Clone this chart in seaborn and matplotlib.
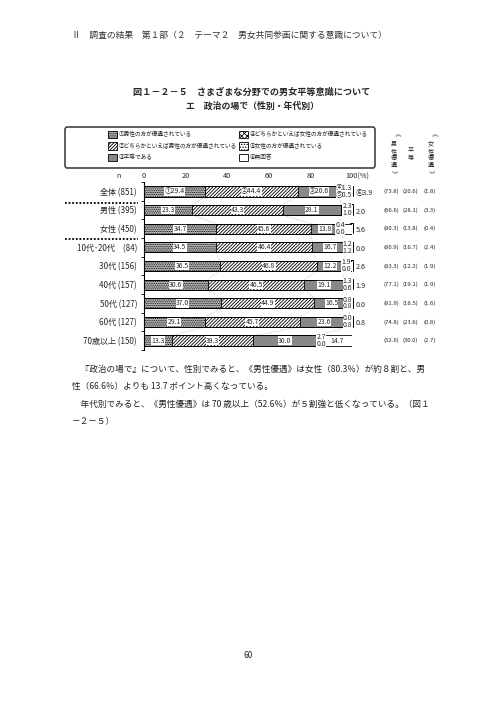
import numpy as np
import pandas as pd
import matplotlib.pyplot as plt
import matplotlib.patches as mpatches
from matplotlib.lines import Line2D
import seaborn as sns

# ---------------------------
# data
# ---------------------------
groups = ['全体 (851)', '男性 (395)', '女性 (450)', '10代･20代　(84)', '30代 (156)',
          '40代 (157)', '50代 (127)', '60代 (127)', '70歳以上 (150)']
cat_labels = ['①男性の方が優遇されている',
              '②どちらかといえば男性の方が優遇されている',
              '③平等である',
              '④どちらかといえば女性の方が優遇されている',
              '⑤女性の方が優遇されている',
              '⑥無回答']
v1 = [29.4, 23.3, 34.7, 34.5, 36.5, 30.6, 37.0, 29.1, 13.3]
v2 = [44.4, 43.3, 45.6, 46.4, 46.8, 46.5, 44.9, 45.7, 39.3]
v3 = [20.6, 28.1, 13.8, 16.7, 12.2, 19.1, 16.5, 23.6, 30.0]
v4 = [1.3, 2.3, 0.4, 1.2, 1.9, 1.3, 0.8, 0.0, 2.7]
v5 = [0.5, 1.0, 0.0, 1.2, 0.0, 0.6, 0.8, 0.8, 0.0]
v6 = [3.9, 2.0, 5.6, 0.0, 2.6, 1.9, 0.0, 0.8, 14.7]
male_pref = [73.8, 66.6, 80.3, 80.9, 83.3, 77.1, 81.9, 74.8, 52.6]
equal = [20.6, 28.1, 13.8, 16.7, 12.2, 19.1, 16.5, 23.6, 30.0]
female_pref = [1.8, 3.3, 0.4, 2.4, 1.9, 1.9, 1.6, 0.8, 2.7]
x_ticks = [0, 20, 40, 60, 80, 100]

header = 'Ⅱ　調査の結果　第１部（２　テーマ２　男女共同参画に関する意識について）'
title1 = '図１－２－５　さまざまな分野での男女平等意識について'
title2 = 'エ　政治の場で（性別・年代別）'
body = ['　『政治の場で』について、性別でみると、《男性優遇》は女性（80.3％）が約８割と、男',
        '性（66.6％）よりも 13.7 ポイント高くなっている。',
        '　年代別でみると、《男性優遇》は 70 歳以上（52.6％）が５割強と低くなっている。（図１',
        '－２－５）']

df = pd.DataFrame({'group': groups, 'c1': v1, 'c2': v2, 'c3': v3,
                   'c4': v4, 'c5': v5, 'c6': v6})
vals = df[['c1', 'c2', 'c3', 'c4', 'c5', 'c6']].values
cum = np.cumsum(vals, axis=1)

sns.set_theme(style='white')
plt.rcParams['font.family'] = ['Noto Sans CJK JP', 'DejaVu Sans']
plt.rcParams['hatch.linewidth'] = 0.6

W, H = 496, 702
fig = plt.figure(figsize=(W / 100, H / 100), dpi=100)
fig.patch.set_facecolor('white')


def fx(px):
    return px / W


def fy(py):
    return 1 - py / H


# styles for the six answers
faces = ['#c4c4c4', 'white', '#888888', 'white', 'white', 'white']
hatches = ['.' * 9, '/' * 10, None, 'x' * 6, '.' * 6, None]

# bars axes: x 0 -> px 144, 100 -> px 352 ; rows 193..339
top_px, bot_px = 193 - 0.6 * 18.25, 339 + 0.6 * 18.25
ax = fig.add_axes([fx(144), fy(bot_px), fx(352) - fx(144), (bot_px - top_px) / H])

# stacked bars drawn as cumulative layers, longest first
for k in range(5, -1, -1):
    sns.barplot(x=cum[:, k], y=groups, orient='h', color=faces[k], saturation=1,
                width=0.55, edgecolor='black', linewidth=0.6, hatch=hatches[k], ax=ax)

ax.set_xlim(0, 100)
ax.set_ylim(8.6, -0.6)
for s in ['top', 'right', 'bottom']:
    ax.spines[s].set_visible(False)
ax.spines['left'].set_linewidth(0.8)
ax.spines['left'].set_color('black')
ax.set_xticks([])
ax.set_yticks(range(len(groups)))
ax.set_yticklabels(groups, fontsize=5.8)
ax.tick_params(axis='y', which='major', length=0, pad=5)
ax.set_yticks(np.arange(-0.5, 9, 1), minor=True)
ax.tick_params(axis='y', which='minor', length=2, width=0.6, color='black', left=True)
ax.set_xlabel('')
ax.set_ylabel('')

# series lines between rows
for b in range(3):
    for i in range(len(groups) - 1):
        ax.plot([cum[i, b], cum[i + 1, b]], [i + 0.275, i + 1 - 0.275],
                color='#c4c4c4', lw=0.5, ls=(0, (3, 2)), zorder=0.5)

# x tick labels on top
for t in x_ticks:
    lab = str(t) if t < 100 else '100(%)'
    ax.text(t if t < 100 else 96.6, -0.8, lab, ha='center' if t < 100 else 'left',
            va='center', fontsize=5.3)
ax.text(-12, -0.8, 'n', ha='center', va='center', fontsize=5.3)

box = dict(boxstyle='square,pad=0.05', fc='white', ec='none')
circ = ['①', '②', '③', '④', '⑤', '⑥']
for i in range(len(groups)):
    starts = np.concatenate([[0], cum[i, :-1]])
    for k in range(3):
        txt = f'{vals[i, k]:.1f}'
        if i == 0:
            txt = circ[k] + txt
        ax.text(starts[k] + vals[i, k] / 2, i, txt, ha='center', va='center',
                fontsize=4.9, bbox=box, zorder=3)
    # small segments
    lx = min(cum[i, 4] - 2.5, 95.6)
    t4 = f'{vals[i, 3]:.1f}'
    t5 = f'{vals[i, 4]:.1f}'
    t6 = f'{vals[i, 5]:.1f}'
    if i == 0:
        t4, t5, t6 = '④' + t4, '⑤' + t5, '⑥' + t6
        lx = 92.4
    ax.text(lx, i - 0.2, t4, ha='left', va='center', fontsize=4.9, bbox=box,
            clip_on=False, zorder=6)
    ax.text(lx, i + 0.17, t5, ha='left', va='center', fontsize=4.9, bbox=box,
            clip_on=False, zorder=6)
    if i < len(groups) - 1:
        ax.add_line(Line2D([99.0, 100.5, 100.5], [i - 0.3, i - 0.3, i + 0.25],
                           color='black', lw=0.7, clip_on=False, zorder=5.5))
        ax.text(101.8, i + 0.08, t6, ha='left', va='center', fontsize=5.2,
                clip_on=False, zorder=7)
    else:
        ax.text(cum[i, 4] + vals[i, 5] / 2, i, t6, ha='center', va='center',
                fontsize=4.9, zorder=6)

# outline of the main bar part on top of the label boxes
sns.barplot(x=cum[:, 2], y=groups, orient='h', fill=False, width=0.55,
            edgecolor='black', linewidth=0.6, ax=ax, zorder=5)

# right-hand summary columns
for i in range(len(groups)):
    yy = fig.transFigure.inverted().transform(ax.transData.transform((0, i)))[1]
    fig.text(fx(391.5), yy, f'({male_pref[i]:.1f})', ha='center', va='center', fontsize=4.3)
    fig.text(fx(410.5), yy, f'({equal[i]:.1f})', ha='center', va='center', fontsize=4.3)
    fig.text(fx(429.5), yy, f'({female_pref[i]:.1f})', ha='center', va='center', fontsize=4.3)

# vertical column headers
for xp, chars in [(394, '男性優遇'), (431, '女性優遇')]:
    fig.text(fx(xp), fy(136), '《', rotation=-90, ha='center', va='center', fontsize=4.4)
    for j, ch in enumerate(chars):
        fig.text(fx(xp), fy(143.5 + j * 7.3), ch, ha='center', va='center', fontsize=4.4)
    fig.text(fx(xp), fy(173), '》', rotation=-90, ha='center', va='center', fontsize=4.4)
fig.text(fx(411), fy(150), '平', ha='center', va='center', fontsize=4.4)
fig.text(fx(411), fy(157.5), '等', ha='center', va='center', fontsize=4.4)

# dotted separators
for py in [202.7, 239]:
    fig.add_artist(Line2D([fx(65), fx(138)], [fy(py), fy(py)], color='black', lw=1.3,
                          ls=(0, (1, 1))))

# legend
frame = mpatches.FancyBboxPatch((fx(65), fy(168)), fx(375) - fx(65), (168 - 127) / H,
                                boxstyle='round,pad=0,rounding_size=0.004',
                                transform=fig.transFigure, fc='white', ec='#333333', lw=1.1)
fig.add_artist(frame)
handles = [mpatches.Patch(facecolor=faces[k], edgecolor='black', hatch=hatches[k], lw=0.6)
           for k in range(6)]
fig.legend(handles, cat_labels, ncol=2, frameon=False, fontsize=4.1,
           loc='upper left', bbox_to_anchor=(fx(108), fy(131)),
           handlelength=1.6, handleheight=1.6, handletextpad=0.3,
           columnspacing=0.3, labelspacing=0.7, borderpad=0, borderaxespad=0)

# page texts
fig.text(fx(72), fy(35), header, ha='left', va='center', fontsize=6.3, color='#333333')
fig.text(fx(252), fy(92), title1, ha='center', va='center', fontsize=6.6, weight='bold')
fig.text(fx(252), fy(106), title2, ha='center', va='center', fontsize=6.4, weight='bold')
for j, line in enumerate(body):
    fig.text(fx(72), fy(369 + j * 17.7), line, ha='left', va='center', fontsize=6.2,
             color='#222222')
fig.text(fx(248), fy(655), '60', ha='center', va='center', fontsize=6)

fig.savefig('out.png', dpi=100)
